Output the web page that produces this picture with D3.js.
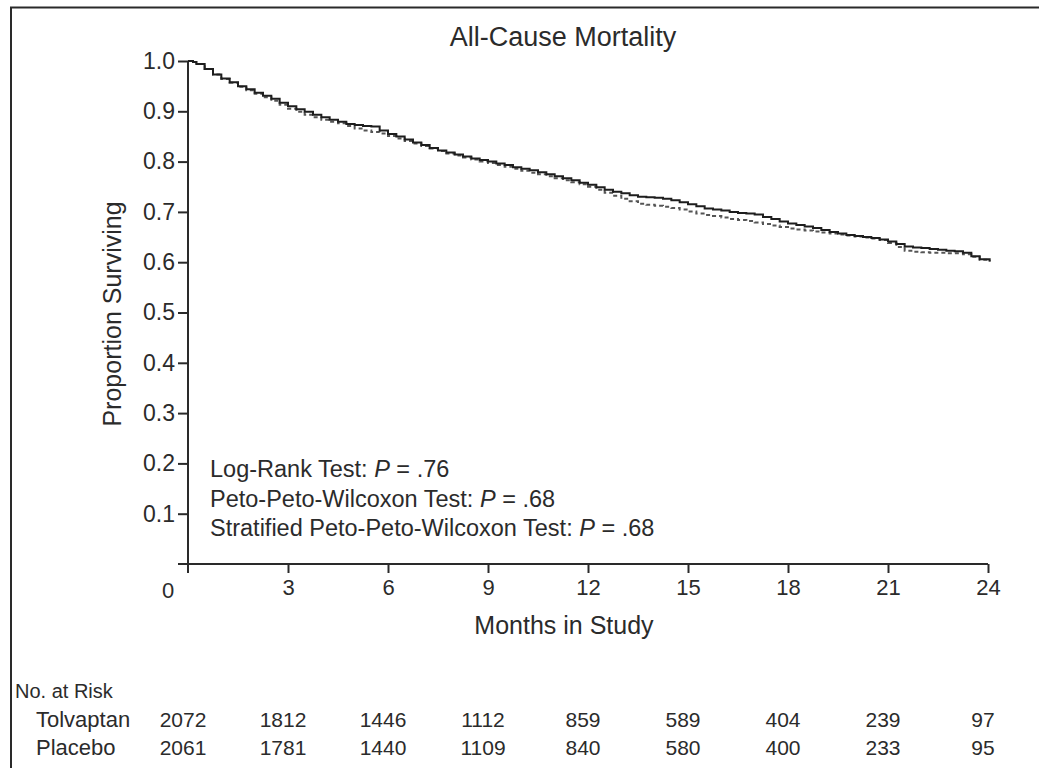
<!DOCTYPE html>
<html>
<head>
<meta charset="utf-8">
<script src="https://cdn.jsdelivr.net/npm/d3@7"></script>
<style>
  html, body { margin: 0; padding: 0; background: #fff; }
  svg { display: block; }
  text { font-family: "Liberation Sans", Arial, sans-serif; fill: #2b2b2b; }
</style>
</head>
<body>
<script>
// Kaplan-Meier estimates, all-cause mortality (months in study, proportion surviving)
const months = [0, 0.15, 0.25, 0.5, 0.75, 1.0, 1.25, 1.5, 1.75, 2.0, 2.25, 2.5, 2.75, 3.0, 3.25, 3.5, 3.75, 4.0, 4.25, 4.5, 4.75, 5.0, 5.25, 5.5, 5.75, 6.0, 6.25, 6.5, 6.75, 7.0, 7.25, 7.5, 7.75, 8.0, 8.25, 8.5, 8.75, 9.0, 9.25, 9.5, 9.75, 10.0, 10.25, 10.5, 10.75, 11.0, 11.25, 11.5, 11.75, 12.0, 12.25, 12.5, 12.75, 13.0, 13.25, 13.5, 13.75, 14.0, 14.25, 14.5, 14.75, 15.0, 15.25, 15.5, 15.75, 16.0, 16.25, 16.5, 16.75, 17.0, 17.25, 17.5, 17.75, 18.0, 18.25, 18.5, 18.75, 19.0, 19.25, 19.5, 19.75, 20.0, 20.25, 20.5, 20.75, 21.0, 21.25, 21.5, 21.75, 22.0, 22.25, 22.5, 22.75, 23.0, 23.25, 23.5, 23.75, 24.05];
const tolvaptanSurv = [1.000, 0.998, 0.994, 0.984, 0.973, 0.965, 0.958, 0.950, 0.944, 0.937, 0.931, 0.925, 0.917, 0.910, 0.904, 0.899, 0.893, 0.888, 0.883, 0.879, 0.875, 0.873, 0.871, 0.870, 0.862, 0.855, 0.850, 0.844, 0.838, 0.833, 0.827, 0.822, 0.818, 0.814, 0.810, 0.806, 0.803, 0.800, 0.796, 0.793, 0.789, 0.786, 0.783, 0.779, 0.775, 0.771, 0.767, 0.763, 0.758, 0.754, 0.749, 0.744, 0.740, 0.737, 0.733, 0.730, 0.729, 0.728, 0.726, 0.723, 0.719, 0.715, 0.711, 0.707, 0.705, 0.703, 0.700, 0.698, 0.697, 0.695, 0.690, 0.686, 0.681, 0.677, 0.674, 0.671, 0.668, 0.664, 0.660, 0.657, 0.654, 0.652, 0.650, 0.648, 0.645, 0.641, 0.636, 0.631, 0.629, 0.628, 0.626, 0.625, 0.623, 0.622, 0.619, 0.612, 0.606, 0.602];
const placeboSurv = [1.000, 0.998, 0.994, 0.984, 0.973, 0.964, 0.957, 0.949, 0.942, 0.935, 0.928, 0.921, 0.913, 0.905, 0.899, 0.893, 0.888, 0.883, 0.879, 0.876, 0.871, 0.866, 0.862, 0.859, 0.856, 0.851, 0.846, 0.841, 0.836, 0.831, 0.826, 0.821, 0.816, 0.812, 0.808, 0.804, 0.800, 0.797, 0.793, 0.790, 0.786, 0.782, 0.778, 0.775, 0.771, 0.767, 0.763, 0.759, 0.755, 0.750, 0.744, 0.738, 0.732, 0.726, 0.721, 0.716, 0.714, 0.712, 0.710, 0.708, 0.705, 0.701, 0.697, 0.694, 0.692, 0.689, 0.686, 0.684, 0.682, 0.679, 0.676, 0.673, 0.670, 0.667, 0.665, 0.663, 0.661, 0.659, 0.657, 0.655, 0.653, 0.651, 0.649, 0.647, 0.644, 0.638, 0.630, 0.623, 0.621, 0.620, 0.619, 0.619, 0.618, 0.618, 0.616, 0.611, 0.605, 0.601];

// Axis ticks
const xTicks = [0, 3, 6, 9, 12, 15, 18, 21, 24];
const yTicks = [0.1, 0.2, 0.3, 0.4, 0.5, 0.6, 0.7, 0.8, 0.9, 1.0];

// Number at risk table
const riskGroups = ["Tolvaptan", "Placebo"];
const riskTolvaptan = [2072, 1812, 1446, 1112, 859, 589, 404, 239, 97];
const riskPlacebo = [2061, 1781, 1440, 1109, 840, 580, 400, 233, 95];

// Test statistics shown in the plot
const testNames = ["Log-Rank Test: ", "Peto-Peto-Wilcoxon Test: ", "Stratified Peto-Peto-Wilcoxon Test: "];
const testP = [".76", ".68", ".68"];

const W = 1039, H = 768;
const svg = d3.select("body").append("svg").attr("width", W).attr("height", H);

// Outer frame (top and left rules)
svg.append("path")
  .attr("d", "M11,768 V7.5 H1039")
  .attr("fill", "none").attr("stroke", "#2a2a2a").attr("stroke-width", 2);

const x = d3.scaleLinear().domain([0, 24]).range([188, 988]);
const y = d3.scaleLinear().domain([0, 1]).range([564, 61]);

// Title
svg.append("text").attr("x", 563).attr("y", 46)
  .attr("text-anchor", "middle").style("font-size", "27px")
  .text("All-Cause Mortality");

// Y axis
const yAxis = d3.axisLeft(y).tickValues(yTicks).tickFormat(d3.format(".1f"))
  .tickSize(10).tickPadding(3).tickSizeOuter(0);
const gy = svg.append("g").attr("transform", `translate(${x(0)},0)`).call(yAxis);
gy.select(".domain").remove();
gy.selectAll(".tick line").attr("stroke", "#2a2a2a").attr("stroke-width", 2);
gy.selectAll(".tick text").style("font-size", "23px").attr("fill", "#2b2b2b").attr("font-family", null);
// y axis spine extends below the x axis
svg.append("line").attr("x1", x(0)).attr("x2", x(0)).attr("y1", y(1)).attr("y2", y(0) + 9)
  .attr("stroke", "#2a2a2a").attr("stroke-width", 2);

// X axis
const xAxis = d3.axisBottom(x).tickValues(xTicks.slice(1)).tickSize(9).tickPadding(6).tickSizeOuter(0);
const gx = svg.append("g").attr("transform", `translate(0,${y(0)})`).call(xAxis);
gx.select(".domain").remove();
gx.selectAll(".tick line").attr("stroke", "#2a2a2a").attr("stroke-width", 2);
gx.selectAll(".tick text").style("font-size", "22px").attr("fill", "#2b2b2b").attr("font-family", null);
// x axis spine extends left of the y axis; the origin label sits to the left
svg.append("line").attr("x1", x(0) - 10).attr("x2", x(24)).attr("y1", y(0)).attr("y2", y(0))
  .attr("stroke", "#2a2a2a").attr("stroke-width", 2);
svg.append("text").attr("x", x(0) - 20).attr("y", y(0) + 34)
  .attr("text-anchor", "middle").style("font-size", "22px").text(xTicks[0]);

// Axis titles
svg.append("text").attr("x", 564).attr("y", 634).attr("text-anchor", "middle")
  .style("font-size", "25px").text("Months in Study");
svg.append("text").attr("transform", "translate(121,314) rotate(-90)")
  .attr("text-anchor", "middle").style("font-size", "25px").text("Proportion Surviving");

// Survival curves (placebo dashed underneath, tolvaptan solid on top)
const line = d3.line().x(d => x(d[0])).y(d => y(d[1])).curve(d3.curveStepAfter);
const placeboPts = months.map((t, i) => [t, placeboSurv[i]]);
const tolvaptanPts = months.map((t, i) => [t, tolvaptanSurv[i]]);

svg.append("path").datum(placeboPts).attr("d", line)
  .attr("fill", "none").attr("stroke", "#555").attr("stroke-width", 2)
  .attr("stroke-dasharray", "4,3");
svg.append("path").datum(tolvaptanPts).attr("d", line)
  .attr("fill", "none").attr("stroke", "#1e1e1e").attr("stroke-width", 2);

// Test statistics
const tests = svg.append("g");
testNames.forEach((name, i) => {
  const t = tests.append("text").attr("x", 210).attr("y", 477 + i * 29.5).style("font-size", "23.5px");
  t.append("tspan").text(name);
  t.append("tspan").style("font-style", "italic").text("P");
  t.append("tspan").text(" = " + testP[i]);
});

// Number at risk
svg.append("text").attr("x", 15).attr("y", 698).style("font-size", "20px").text("No. at Risk");
const riskRows = [riskTolvaptan, riskPlacebo];
riskGroups.forEach((g, r) => {
  const yy = 727 + r * 28;
  svg.append("text").attr("x", 36).attr("y", yy).style("font-size", "22px").text(g);
  svg.append("g").selectAll("text").data(riskRows[r]).join("text")
    .attr("x", (d, i) => x(xTicks[i]) - 5)
    .attr("y", yy).attr("text-anchor", "middle").style("font-size", "21px")
    .text(d => d);
});
</script>
</body>
</html>
